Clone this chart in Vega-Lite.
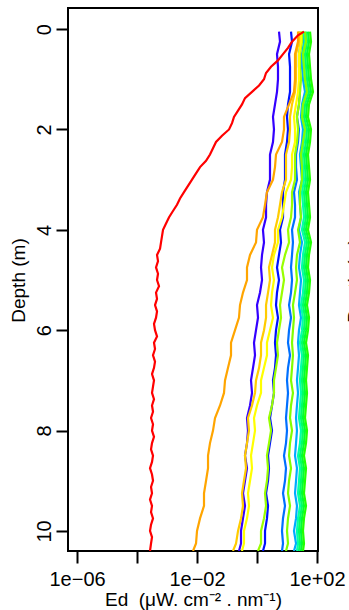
{
  "$schema": "https://vega.github.io/schema/vega-lite/v6.json",
  "width": 250,
  "height": 543,
  "autosize": "none",
  "padding": {"left": 68, "top": 8, "right": 31, "bottom": 59},
  "background": "white",
  "config": {"view": {"stroke": "black", "strokeWidth": 2}, "font": "Liberation Sans"},
  "resolve": {"scale": {"y": "independent"}},
  "layer": [
    {
      "data": {"values": [
        {"depth":0.05,"v":5.41,"b":13.6,"db":27.1,"sb":34.1,"g1":36.8,"g2":43.0,"g3":50.1,"g4":58.5,"gy":39.8,"yg":31.6,"y":29.3,"gd":25.1,"o":23.3},
        {"depth":0.25,"v":5.85,"b":14.7,"db":29.3,"sb":36.8,"g1":39.8,"g2":46.4,"g3":54.1,"g4":63.1,"gy":43.0,"yg":31.6,"y":29.3,"gd":25.1,"o":23.3},
        {"depth":0.5,"v":4.64,"b":11.7,"db":25.1,"sb":31.6,"g1":34.1,"g2":39.8,"g3":46.4,"g4":54.1,"gy":34.1,"yg":27.1,"y":25.1,"gd":20.0,"o":18.5},
        {"depth":0.75,"v":5.01,"b":12.6,"db":25.1,"sb":31.6,"g1":36.8,"g2":43.0,"g3":50.1,"g4":58.5,"gy":36.8,"yg":27.1,"y":25.1,"gd":20.0,"o":18.5},
        {"depth":1.0,"v":5.01,"b":12.6,"db":27.1,"sb":34.1,"g1":39.8,"g2":46.4,"g3":54.1,"g4":63.1,"gy":39.8,"yg":29.3,"y":25.1,"gd":20.0,"o":18.5},
        {"depth":1.25,"v":4.64,"b":12.6,"db":27.1,"sb":39.8,"g1":46.4,"g2":54.1,"g3":63.1,"g4":73.6,"gy":46.4,"yg":27.1,"y":23.3,"gd":18.5,"o":17.1},
        {"depth":1.5,"v":3.98,"b":10.8,"db":25.1,"sb":31.6,"g1":34.1,"g2":39.8,"g3":46.4,"g4":54.1,"gy":34.1,"yg":25.1,"y":20.0,"gd":14.7,"o":11.7},
        {"depth":1.75,"v":3.41,"b":10.0,"db":21.5,"sb":29.3,"g1":31.6,"g2":36.8,"g3":43.0,"g4":50.1,"gy":31.6,"yg":21.5,"y":17.1,"gd":12.6,"o":7.94},
        {"depth":2.0,"v":3.68,"b":10.8,"db":25.1,"sb":34.1,"g1":39.8,"g2":46.4,"g3":54.1,"g4":63.1,"gy":39.8,"yg":23.3,"y":18.5,"gd":12.6,"o":7.94},
        {"depth":2.25,"v":3.41,"b":10.0,"db":23.3,"sb":31.6,"g1":36.8,"g2":43.0,"g3":50.1,"g4":58.5,"gy":34.1,"yg":21.5,"y":18.5,"gd":11.7,"o":6.81},
        {"depth":2.5,"v":2.71,"b":8.58,"db":20.0,"sb":27.1,"g1":31.6,"g2":36.8,"g3":43.0,"g4":50.1,"gy":29.3,"yg":18.5,"y":14.7,"gd":9.26,"o":4.30},
        {"depth":2.75,"v":2.71,"b":8.58,"db":20.0,"sb":29.3,"g1":34.1,"g2":39.8,"g3":46.4,"g4":54.1,"gy":31.6,"yg":18.5,"y":14.7,"gd":9.26,"o":3.98},
        {"depth":3.0,"v":2.71,"b":8.58,"db":21.5,"sb":31.6,"g1":36.8,"g2":43.0,"g3":50.1,"g4":58.5,"gy":31.6,"yg":18.5,"y":13.6,"gd":9.26,"o":3.41},
        {"depth":3.25,"v":2.15,"b":7.36,"db":17.1,"sb":25.1,"g1":31.6,"g2":36.8,"g3":43.0,"g4":50.1,"gy":27.1,"yg":14.7,"y":9.26,"gd":6.81,"o":2.15},
        {"depth":3.5,"v":2.00,"b":7.36,"db":18.5,"sb":27.1,"g1":34.1,"g2":39.8,"g3":46.4,"g4":54.1,"gy":27.1,"yg":14.7,"y":7.94,"gd":5.85,"o":1.85},
        {"depth":3.75,"v":2.00,"b":7.36,"db":18.5,"sb":29.3,"g1":36.8,"g2":43.0,"g3":50.1,"g4":58.5,"gy":29.3,"yg":13.6,"y":6.81,"gd":5.01,"o":1.58},
        {"depth":4.0,"v":1.58,"b":5.85,"db":14.7,"sb":25.1,"g1":31.6,"g2":36.8,"g3":43.0,"g4":50.1,"gy":23.3,"yg":10.8,"y":5.01,"gd":3.98,"o":1.00},
        {"depth":4.25,"v":1.71,"b":6.31,"db":15.8,"sb":31.6,"g1":39.8,"g2":46.4,"g3":54.1,"g4":63.1,"gy":27.1,"yg":11.7,"y":5.01,"gd":3.98,"o":0.926},
        {"depth":4.5,"v":1.47,"b":5.41,"db":14.7,"sb":27.1,"g1":34.1,"g2":39.8,"g3":46.4,"g4":54.1,"gy":21.5,"yg":8.58,"y":3.68,"gd":3.16,"o":0.585},
        {"depth":4.75,"v":1.36,"b":4.64,"db":13.6,"sb":25.1,"g1":31.6,"g2":36.8,"g3":43.0,"g4":50.1,"gy":20.0,"yg":6.81,"y":3.16,"gd":2.51,"o":0.464},
        {"depth":5.0,"v":1.47,"b":5.41,"db":14.7,"sb":29.3,"g1":36.8,"g2":43.0,"g3":50.1,"g4":58.5,"gy":21.5,"yg":7.94,"y":3.68,"gd":2.71,"o":0.464},
        {"depth":5.25,"v":1.26,"b":4.64,"db":13.6,"sb":27.1,"g1":34.1,"g2":39.8,"g3":46.4,"g4":54.1,"gy":18.5,"yg":6.81,"y":3.16,"gd":2.33,"o":0.341},
        {"depth":5.5,"v":1.00,"b":4.30,"db":11.7,"sb":25.1,"g1":29.3,"g2":34.1,"g3":39.8,"g4":46.4,"gy":15.8,"yg":5.85,"y":2.93,"gd":2.00,"o":0.271},
        {"depth":5.75,"v":1.08,"b":5.01,"db":13.6,"sb":29.3,"g1":34.1,"g2":39.8,"g3":46.4,"g4":54.1,"gy":17.1,"yg":6.31,"y":3.41,"gd":2.00,"o":0.251},
        {"depth":6.0,"v":0.926,"b":4.30,"db":11.7,"sb":25.1,"g1":31.6,"g2":36.8,"g3":43.0,"g4":50.1,"gy":15.8,"yg":5.41,"y":2.71,"gd":1.71,"o":0.185},
        {"depth":6.25,"v":0.794,"b":3.98,"db":10.8,"sb":23.3,"g1":27.1,"g2":31.6,"g3":36.8,"g4":43.0,"gy":14.7,"yg":4.64,"y":2.15,"gd":1.36,"o":0.136},
        {"depth":6.5,"v":0.858,"b":4.30,"db":12.6,"sb":25.1,"g1":31.6,"g2":36.8,"g3":43.0,"g4":50.1,"gy":15.8,"yg":5.01,"y":2.15,"gd":1.36,"o":0.136},
        {"depth":6.75,"v":0.736,"b":3.98,"db":10.8,"sb":23.3,"g1":29.3,"g2":34.1,"g3":39.8,"g4":46.4,"gy":14.7,"yg":4.30,"y":1.71,"gd":1.17,"o":0.108},
        {"depth":7.0,"v":0.631,"b":3.41,"db":10.0,"sb":21.5,"g1":27.1,"g2":31.6,"g3":36.8,"g4":43.0,"gy":13.6,"yg":3.68,"y":1.36,"gd":0.926,"o":0.0858},
        {"depth":7.25,"v":0.681,"b":3.68,"db":10.8,"sb":23.3,"g1":29.3,"g2":34.1,"g3":39.8,"g4":46.4,"gy":15.8,"yg":3.68,"y":1.36,"gd":0.858,"o":0.0794},
        {"depth":7.5,"v":0.585,"b":3.16,"db":10.0,"sb":21.5,"g1":27.1,"g2":31.6,"g3":36.8,"g4":43.0,"gy":13.6,"yg":3.16,"y":1.00,"gd":0.681,"o":0.0585},
        {"depth":7.75,"v":0.464,"b":2.71,"db":9.26,"sb":20.0,"g1":25.1,"g2":29.3,"g3":34.1,"g4":39.8,"gy":12.6,"yg":2.51,"y":0.794,"gd":0.501,"o":0.0398},
        {"depth":8.0,"v":0.501,"b":3.16,"db":10.0,"sb":21.5,"g1":29.3,"g2":34.1,"g3":39.8,"g4":46.4,"gy":14.7,"yg":2.93,"y":0.858,"gd":0.541,"o":0.0341},
        {"depth":8.25,"v":0.464,"b":2.71,"db":9.26,"sb":20.0,"g1":27.1,"g2":31.6,"g3":36.8,"g4":43.0,"gy":12.6,"yg":2.51,"y":0.736,"gd":0.464,"o":0.0271},
        {"depth":8.5,"v":0.398,"b":2.33,"db":7.94,"sb":18.5,"g1":23.3,"g2":27.1,"g3":31.6,"g4":36.8,"gy":11.7,"yg":2.15,"y":0.631,"gd":0.398,"o":0.0233},
        {"depth":8.75,"v":0.464,"b":2.51,"db":9.26,"sb":21.5,"g1":27.1,"g2":31.6,"g3":36.8,"g4":43.0,"gy":13.6,"yg":2.33,"y":0.681,"gd":0.430,"o":0.0233},
        {"depth":9.0,"v":0.398,"b":2.33,"db":8.58,"sb":20.0,"g1":25.1,"g2":29.3,"g3":34.1,"g4":39.8,"gy":11.7,"yg":2.15,"y":0.585,"gd":0.368,"o":0.0200},
        {"depth":9.25,"v":0.341,"b":2.00,"db":7.36,"sb":18.5,"g1":23.3,"g2":27.1,"g3":31.6,"g4":36.8,"gy":10.8,"yg":1.85,"y":0.501,"gd":0.316,"o":0.0171},
        {"depth":9.5,"v":0.398,"b":2.33,"db":8.58,"sb":21.5,"g1":27.1,"g2":31.6,"g3":36.8,"g4":43.0,"gy":12.6,"yg":2.00,"y":0.541,"gd":0.341,"o":0.0171},
        {"depth":9.75,"v":0.341,"b":2.15,"db":7.36,"sb":20.0,"g1":23.3,"g2":27.1,"g3":31.6,"g4":36.8,"gy":10.8,"yg":1.71,"y":0.464,"gd":0.293,"o":0.0126},
        {"depth":10.0,"v":0.293,"b":1.85,"db":6.81,"sb":17.1,"g1":21.5,"g2":25.1,"g3":29.3,"g4":34.1,"gy":10.0,"yg":1.36,"y":0.368,"gd":0.233,"o":0.0100},
        {"depth":10.25,"v":0.293,"b":1.85,"db":7.36,"sb":20.0,"g1":23.3,"g2":27.1,"g3":31.6,"g4":36.8,"gy":10.8,"yg":1.36,"y":0.368,"gd":0.200,"o":0.00926},
        {"depth":10.4,"v":0.251,"b":1.58,"db":6.81,"sb":17.1,"g1":21.5,"g2":25.1,"g3":29.3,"g4":34.1,"gy":9.26,"yg":1.08,"y":0.316,"gd":0.158,"o":0.00736}
      ]},
      "transform": [{"fold": ["v","b","db","sb","g1","g2","g3","g4","gy","yg","y","gd","o"], "as": ["band","value"]}],
      "mark": {"type": "line", "strokeWidth": 2.2, "clip": true},
      "encoding": {
        "x": {"field": "value", "type": "quantitative",
          "scale": {"type": "log", "domain": [5.0e-7, 108], "nice": false, "zero": false},
          "axis": {"values": [1e-6, 1e-4, 1e-2, 1, 100], "grid": false, "domain": false,
            "tickSize": 12, "tickWidth": 2, "tickColor": "black",
            "labelExpr": "datum.value < 2e-6 ? '1e\u221206' : (datum.value > 0.005 && datum.value < 0.02) ? '1e\u221202' : datum.value > 50 ? '1e+02' : ''",
            "labelFont": "Liberation Sans", "labelFontSize": 20, "labelColor": "black",
            "labelBaseline": "alphabetic", "labelPadding": 22, "labelFlush": false, "labelOverlap": false, "labelBound": false,
            "title": "Ed\u00a0\u00a0(\u03bcW. cm\u207b\u00b2\u00a0. nm\u207b\u00b9)",
            "titleFont": "Liberation Sans", "titleFontSize": 19, "titleFontWeight": "normal", "titleColor": "black",
            "titleBaseline": "alphabetic", "titleAlign": "center", "titleX": 125, "titleY": 54.5}},
        "y": {"field": "depth", "type": "quantitative",
          "scale": {"domain": [-0.42, 10.4], "reverse": true, "nice": false, "zero": false},
          "axis": {"values": [0, 2, 4, 6, 8, 10], "grid": false, "domain": false,
            "tickSize": 12, "tickWidth": 2, "tickColor": "black",
            "labelAngle": 270, "labelAlign": "center", "labelBaseline": "alphabetic", "labelPadding": 6,
            "labelFont": "Liberation Sans", "labelFontSize": 20, "labelColor": "black", "labelFlush": false, "labelOverlap": false,
            "title": "Depth (m)", "titleFont": "Liberation Sans", "titleFontSize": 19, "titleFontWeight": "normal", "titleColor": "black",
            "titleAngle": 270, "titleAlign": "center", "titleBaseline": "alphabetic", "titleX": -44, "titleY": 272}},
        "color": {"field": "band", "type": "nominal", "legend": null,
          "scale": {"domain": ["v","b","db","sb","g1","g2","g3","g4","gy","yg","y","gd","o"],
            "range": ["#3300ff","#0011ff","#0070ff","#00aaff","#00ffaa","#00ff66","#00ff33","#22ff00","#80ff00","#99ff00","#ffff00","#ffcc00","#ffa500"]}},
        "order": {"field": "depth", "type": "quantitative"}
      }
    },
    {
      "data": {"values": [
        {"depth":0.05,"value":36.8},{"depth":0.125,"value":23.3},{"depth":0.25,"value":14.7},{"depth":0.375,"value":10.8},
        {"depth":0.5,"value":7.36},{"depth":0.625,"value":5.01},{"depth":0.75,"value":2.93},{"depth":0.875,"value":2.00},
        {"depth":1.0,"value":1.71},{"depth":1.125,"value":1.17},{"depth":1.25,"value":0.681},{"depth":1.375,"value":0.398},
        {"depth":1.5,"value":0.316},{"depth":1.625,"value":0.233},{"depth":1.75,"value":0.171},{"depth":1.875,"value":0.147},
        {"depth":2.0,"value":0.117},{"depth":2.125,"value":0.0681},{"depth":2.25,"value":0.0430},{"depth":2.375,"value":0.0341},
        {"depth":2.5,"value":0.0271},{"depth":2.625,"value":0.0200},{"depth":2.75,"value":0.0126},{"depth":2.875,"value":0.00926},
        {"depth":3.0,"value":0.00681},{"depth":3.125,"value":0.00501},{"depth":3.25,"value":0.00368},{"depth":3.375,"value":0.00271},
        {"depth":3.5,"value":0.00215},{"depth":3.625,"value":0.00158},{"depth":3.75,"value":0.00117},{"depth":3.875,"value":0.000926},
        {"depth":4.0,"value":0.000736},{"depth":4.125,"value":0.000681},{"depth":4.25,"value":0.000631},{"depth":4.375,"value":0.000585},
        {"depth":4.5,"value":0.000464},{"depth":4.625,"value":0.000501},{"depth":4.75,"value":0.000430},{"depth":4.875,"value":0.000501},
        {"depth":5.0,"value":0.000464},{"depth":5.125,"value":0.000541},{"depth":5.25,"value":0.000430},{"depth":5.375,"value":0.000464},
        {"depth":5.5,"value":0.000398},{"depth":5.625,"value":0.000464},{"depth":5.75,"value":0.000430},{"depth":5.875,"value":0.000368},
        {"depth":6.0,"value":0.000398},{"depth":6.125,"value":0.000464},{"depth":6.25,"value":0.000368},{"depth":6.375,"value":0.000398},
        {"depth":6.5,"value":0.000341},{"depth":6.625,"value":0.000398},{"depth":6.75,"value":0.000368},{"depth":6.875,"value":0.000316},
        {"depth":7.0,"value":0.000368},{"depth":7.125,"value":0.000341},{"depth":7.25,"value":0.000316},{"depth":7.375,"value":0.000368},
        {"depth":7.5,"value":0.000316},{"depth":7.625,"value":0.000341},{"depth":7.75,"value":0.000293},{"depth":7.875,"value":0.000341},
        {"depth":8.0,"value":0.000316},{"depth":8.125,"value":0.000368},{"depth":8.25,"value":0.000316},{"depth":8.375,"value":0.000293},
        {"depth":8.5,"value":0.000341},{"depth":8.625,"value":0.000316},{"depth":8.75,"value":0.000271},{"depth":8.875,"value":0.000316},
        {"depth":9.0,"value":0.000341},{"depth":9.125,"value":0.000293},{"depth":9.25,"value":0.000316},{"depth":9.375,"value":0.000271},
        {"depth":9.5,"value":0.000316},{"depth":9.625,"value":0.000293},{"depth":9.75,"value":0.000341},{"depth":9.875,"value":0.000293},
        {"depth":10.0,"value":0.000271},{"depth":10.125,"value":0.000316},{"depth":10.25,"value":0.000293},{"depth":10.4,"value":0.000271}
      ]},
      "mark": {"type": "line", "strokeWidth": 2.2, "color": "#ff0000", "clip": true},
      "encoding": {
        "x": {"field": "value", "type": "quantitative",
          "scale": {"type": "log", "domain": [5.0e-7, 108], "nice": false, "zero": false}},
        "y": {"field": "depth", "type": "quantitative",
          "scale": {"domain": [-0.42, 10.4], "reverse": true, "nice": false, "zero": false},
          "axis": {"orient": "right", "ticks": false, "labels": false, "domain": false, "grid": false,
            "title": "Depth (m)", "titleFont": "Liberation Sans", "titleFontSize": 19, "titleFontWeight": "normal", "titleColor": "black",
            "titleAngle": 270, "titleAlign": "center", "titleBaseline": "alphabetic", "titleX": 42, "titleY": 272}},
        "order": {"field": "depth", "type": "quantitative"}
      }
    }
  ]
}
